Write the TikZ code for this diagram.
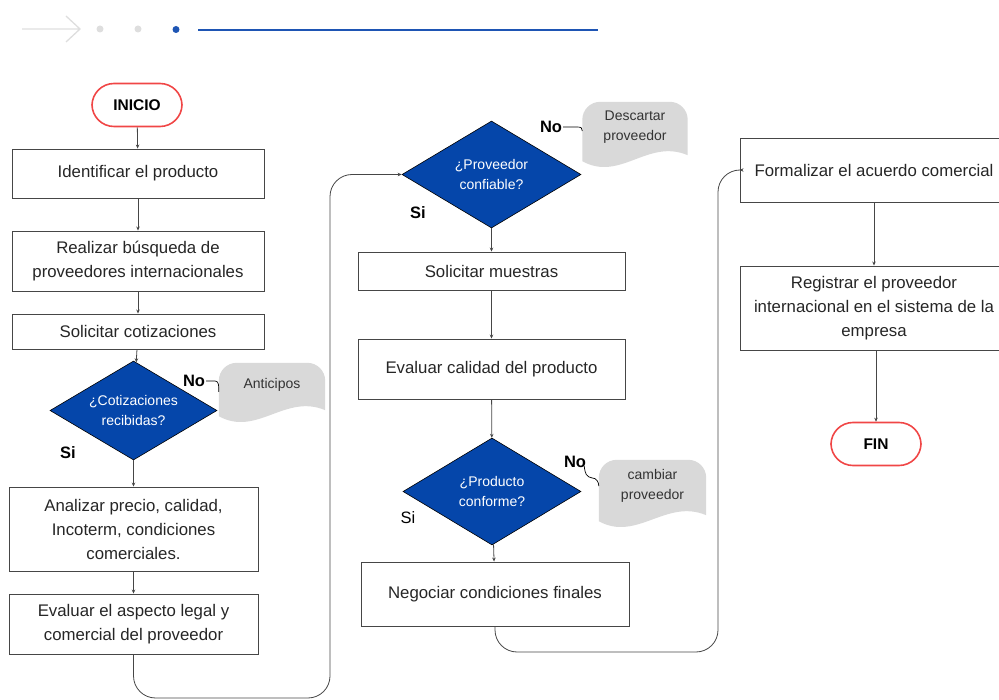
\documentclass[tikz,border=0pt]{standalone}
\usepackage{fontspec}
\setmainfont{Liberation Sans}
\usetikzlibrary{arrows.meta, shapes.geometric, positioning, backgrounds}

\definecolor{decblue}{RGB}{5,70,170}
\definecolor{termred}{RGB}{240,70,70}
\definecolor{notegray}{RGB}{217,217,217}
\definecolor{linegray}{RGB}{70,70,70}
\definecolor{topgray}{RGB}{222,222,222}
\definecolor{topblue}{RGB}{30,85,180}

% grey note shape with wavy bottom, drawn behind a text node
\newcommand{\notebg}[1]{%
  \begin{scope}[on background layer]
    \fill[notegray] ([yshift=-9pt]#1.south west) -- ([yshift=-18pt]#1.north west)
      .. controls ([yshift=-8pt]#1.north west) and ([xshift=8pt]#1.north west) .. ([xshift=18pt]#1.north west)
      -- ([xshift=-18pt]#1.north east)
      .. controls ([xshift=-8pt]#1.north east) and ([yshift=-8pt]#1.north east) .. ([yshift=-18pt]#1.north east)
      -- ([yshift=-3pt]#1.south east)
      .. controls ([xshift=-40pt,yshift=14pt]#1.south east) and ([xshift=38pt,yshift=-30pt]#1.south west)
      .. ([yshift=-9pt]#1.south west) -- cycle;
  \end{scope}}

\begin{document}
\begin{tikzpicture}[
    x=1pt, y=-1pt,
    >=Stealth,
    process/.style={rectangle, draw=linegray, line width=0.9pt, text=black!85,
        align=center, inner sep=2pt, font=\fontsize{16.8}{24}\selectfont},
    decision/.style={diamond, draw=black, line width=0.6pt, fill=decblue, text=white,
        align=center, inner sep=0pt, shape aspect=1.6, font=\fontsize{14}{20}\selectfont},
    terminal/.style={rectangle, rounded corners=22pt, draw=termred, line width=1.6pt,
        minimum width=90pt, minimum height=43pt, font=\bfseries\fontsize{15.5}{18}\selectfont},
    note/.style={align=center, inner sep=0pt, text=black!80, font=\fontsize{14}{20}\selectfont},
    answer/.style={inner sep=1pt, font=\bfseries\fontsize{16.5}{18}\selectfont},
    flow/.style={draw=linegray, line width=0.8pt, -{Stealth[length=4pt, width=3.5pt]}},
    conn/.style={draw=black, line width=0.7pt}
]
    \useasboundingbox (0,0) rectangle (999,700);

    % Header ------------------------------------------------------

    \draw[topgray, line width=1.3pt] (22,29) -- (80,29) (66,16) -- (80,29) -- (66,42);
    \fill[topgray] (100,29) circle (3.5pt) (138,29) circle (3.5pt);
    \fill[topblue] (176,29.5) circle (3.5pt);
    \draw[topblue, line width=2.2pt] (198,30) -- (598,30);

    % Nodes ------------------------------------------------------

    % first column
    \node[terminal] (inicio) at (137,105) {INICIO};
    \node[process, minimum width=252, minimum height=49] (b1) at (138,173.5) {Identificar el producto};
    \node[process, minimum width=252, minimum height=60] (b2) at (138,261) {Realizar búsqueda de\\proveedores internacionales};
    \node[process, minimum width=252, minimum height=35] (b3) at (138,331.5) {Solicitar cotizaciones};
    \node[decision, minimum width=167, minimum height=99] (d1) at (133.5,410.5) {¿Cotizaciones\\recibidas?};
    \node[process, minimum width=249, minimum height=84] (b4) at (133.5,529) {Analizar precio, calidad,\\Incoterm, condiciones\\comerciales.};
    \node[process, minimum width=249, minimum height=60] (b5) at (133.5,624) {Evaluar el aspecto legal y\\comercial del proveedor};

    % second column
    \node[decision, minimum width=179, minimum height=107] (d2) at (491.5,174.5) {¿Proveedor\\confiable?};
    \node[process, minimum width=267, minimum height=38] (b6) at (491.5,271) {Solicitar muestras};
    \node[process, minimum width=267, minimum height=60] (b7) at (491.5,369) {Evaluar calidad del producto};
    \node[decision, minimum width=178, minimum height=107] (d3) at (492,491.5) {¿Producto\\conforme?};
    \node[process, minimum width=268, minimum height=64] (b8) at (495,594) {Negociar condiciones finales};

    % third column
    \node[process, minimum width=268, minimum height=64] (b9) at (874,170) {Formalizar el acuerdo comercial};
    \node[process, minimum width=268, minimum height=84] (b10) at (874,308) {Registrar el proveedor\\internacional en el sistema de la\\empresa};
    \node[terminal] (fin) at (876,444) {FIN};

    % notes
    \node[note, minimum width=106, minimum height=44] (anticipos) at (272,385) {Anticipos};
    \node[note, minimum width=105, minimum height=50] (descartar) at (635,127) {Descartar\\proveedor};
    \node[note, minimum width=107, minimum height=52] (cambiar) at (652.5,486) {cambiar\\proveedor};
    \notebg{anticipos}
    \notebg{descartar}
    \notebg{cambiar}

    % answers
    \node[answer] (no1) at (194,381) {No};
    \node[answer] (si1) at (68,453) {Si};
    \node[answer] (no2) at (551,127) {No};
    \node[answer] (si2) at (418,213) {Si};
    \node[answer] (no3) at (575,462) {No};
    \node[answer, font=\fontsize{16.5}{18}\selectfont] (si3) at (408,518) {Si};

    % Arrows ---------------------------------------------------

    \draw[flow] (inicio) -- (b1);
    \draw[flow] (b1) -- (b2);
    \draw[flow] (b2) -- (b3);
    \draw[flow] (b3) -- (d1);
    \draw[flow] (d1) -- (b4);
    \draw[flow] (b4) -- (b5);

    \coordinate (c1) at (330,698);
    \draw[flow, rounded corners=22pt] (b5.south) |- (c1) |- (d2.west);

    \draw[flow] (d2) -- (b6);
    \draw[flow] (b6) -- (b7);
    \draw[flow] (b7) -- (d3);
    \draw[flow] (d3) -- (b8);

    \coordinate (c2) at (718,652);
    \draw[flow, rounded corners=22pt] (b8.south) |- (c2) |- (b9.west);

    \draw[flow] (b9) -- (b10);
    \draw[flow] (b10.south -| fin) -- (fin);

    % links to notes
    \draw[conn] (no1.east) -- ++(9,0) .. controls +(4,0) and +(0,-5) .. ([yshift=-7pt]anticipos.west);
    \draw[conn] (no2.east) -- ++(14,0) .. controls +(4,0) and +(0,-3) .. ([yshift=-4pt]descartar.west);
    \draw[conn] ([xshift=-3pt,yshift=3pt]no3.south east) .. controls +(1,8) and +(-6,-1) .. ++(8,12)
        .. controls +(4,0) and +(0,-4) .. (cambiar.west);

\end{tikzpicture}
\end{document}
